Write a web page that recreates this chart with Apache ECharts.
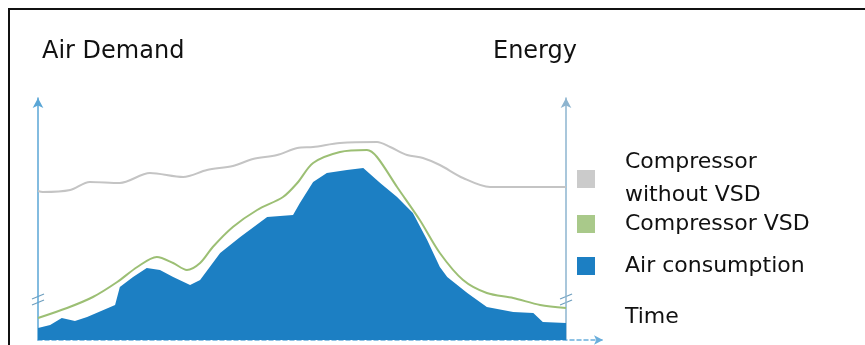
<!DOCTYPE html>
<html>
<head>
<meta charset="utf-8">
<script src="https://cdn.jsdelivr.net/npm/echarts@6/dist/echarts.min.js"></script>
<style>
  html, body { margin: 0; padding: 0; background: #fff; }
  #chart { width: 865px; height: 345px; }
</style>
</head>
<body>
<div id="chart"></div>
<script>
// Time runs 0..100 across the day; demand / energy in relative units.
const seriesNames = ['Compressor\nwithout VSD', 'Compressor VSD', 'Air consumption'];

// Fixed-speed compressor energy
const withoutVsd = [
  [0, 149], [0.9, 148], [6.1, 150], [9.8, 158], [15.5, 157], [21.2, 167],
  [27.5, 163], [32, 170], [36.9, 174], [40.7, 181], [45.3, 185], [49.1, 192],
  [52.1, 193], [57.2, 197], [64.2, 198], [66.7, 193], [69.9, 185], [72.9, 182],
  [76.1, 175], [80.5, 162], [85.6, 153], [90, 153], [95, 153], [100, 153]
];

// Variable-speed compressor energy
const withVsd = [
  [0, 22], [5.5, 32], [10.4, 43], [15, 58], [18.8, 73], [22.5, 83],
  [25.6, 77], [28.2, 70], [30.7, 77], [33.1, 93], [36.9, 113], [41.5, 130],
  [46.4, 143], [49.1, 157], [52.1, 177], [57.2, 188], [62.3, 190], [64.2, 183],
  [68, 153], [72.3, 120], [76.1, 87], [80.5, 60], [85, 47], [90, 42],
  [95.1, 35], [100, 32]
];

// Compressed air demand
const airConsumption = [
  [0, 12], [2.3, 15], [4.5, 22], [7, 19], [9.3, 23], [14.6, 35], [15.5, 53],
  [18, 63], [20.6, 72], [23.1, 70], [25.6, 63], [28.8, 55], [30.7, 60],
  [34.5, 87], [38.3, 103], [43.4, 123], [48.3, 125], [49.6, 137], [52.1, 158],
  [54.7, 167], [58.5, 170], [61.6, 172], [64.8, 157], [68, 143], [71, 127],
  [73.7, 100], [76.1, 73], [77.5, 63], [81.3, 47], [85, 33], [90, 28],
  [93.8, 27], [95.6, 18], [100, 17]
];

const axisTitles = ['Air Demand', 'Energy', 'Time'];
const breakValue = 40; // where the value axes are shown as broken

const FONT = 'DejaVu Sans';
const chart = echarts.init(document.getElementById('chart'), null, { renderer: 'canvas' });

const option = {
  animation: false,
  backgroundColor: '#ffffff',
  title: [
    { text: axisTitles[0], left: 42, top: 38, padding: 0,
      textStyle: { fontFamily: FONT, fontSize: 24, fontWeight: 'normal', color: '#111', lineHeight: 28 } },
    { text: axisTitles[1], right: 288, top: 38, padding: 0,
      textStyle: { fontFamily: FONT, fontSize: 24, fontWeight: 'normal', color: '#111', lineHeight: 28 } },
    { text: axisTitles[2], left: 625, top: 305, padding: 0,
      textStyle: { fontFamily: FONT, fontSize: 22, fontWeight: 'normal', color: '#111', lineHeight: 24 } }
  ],
  legend: [
    {
      data: [seriesNames[0]],
      orient: 'vertical', left: 577, top: 146, padding: 0,
      itemWidth: 18, itemHeight: 18, icon: 'rect',
      textStyle: { fontFamily: FONT, fontSize: 22, color: '#111', lineHeight: 33, padding: [0, 0, 0, 25] }
    },
    {
      data: [seriesNames[1], seriesNames[2]],
      orient: 'vertical', left: 577, top: 212, padding: 0, itemGap: 18,
      itemWidth: 18, itemHeight: 18, icon: 'rect',
      textStyle: { fontFamily: FONT, fontSize: 22, color: '#111', lineHeight: 24, padding: [0, 0, 0, 25] }
    }
  ],
  grid: { left: 38, right: 262, top: 98, bottom: 5, containLabel: false },
  xAxis: {
    type: 'value', min: 0, max: 107,
    axisLine: { show: true, symbol: ['none', 'arrow'], symbolSize: [7, 9],
      lineStyle: { color: '#6aaedb', width: 1.5, type: [4, 3] } },
    axisTick: { show: false }, axisLabel: { show: false }, splitLine: { show: false }
  },
  yAxis: [
    {
      type: 'value', min: 0, max: 242, position: 'left',
      axisLine: { show: true, onZero: false, symbol: ['none', 'arrow'], symbolSize: [8, 10],
        lineStyle: { color: '#5aa6d6', width: 1.5 } },
      axisTick: { show: false }, axisLabel: { show: false }, splitLine: { show: false }
    },
    {
      type: 'value', min: 0, max: 242, position: 'right', offset: -37,
      axisLine: { show: true, onZero: false, symbol: ['none', 'arrow'], symbolSize: [8, 10],
        lineStyle: { color: '#8db4cf', width: 1.5 } },
      axisTick: { show: false }, axisLabel: { show: false }, splitLine: { show: false }
    }
  ],
  series: [
    {
      name: seriesNames[2], type: 'line', data: airConsumption, z: 2,
      symbol: 'none', lineStyle: { width: 0 },
      color: '#1c7fc3', itemStyle: { color: '#1c7fc3' },
      areaStyle: { color: '#1c7fc3', opacity: 1 }
    },
    {
      name: seriesNames[1], type: 'line', data: withVsd, z: 3, smooth: 0.3,
      symbol: 'none', color: '#a9c98a', itemStyle: { color: '#a9c98a' },
      lineStyle: { color: '#9cbf74', width: 2 }
    },
    {
      name: seriesNames[0], type: 'line', data: withoutVsd, z: 3, smooth: 0.3,
      symbol: 'none', color: '#cbcbcb', itemStyle: { color: '#cbcbcb' },
      lineStyle: { color: '#c4c4c4', width: 2 }
    }
  ]
};

chart.setOption(option);

// Frame lines along top and left edge, plus break marks on both value axes
const leftBreak = chart.convertToPixel({ xAxisIndex: 0, yAxisIndex: 0 }, [0, breakValue]);
const rightBreak = chart.convertToPixel({ xAxisIndex: 0, yAxisIndex: 0 }, [100, breakValue]);

function breakMark(p) {
  return {
    type: 'group', x: p[0], y: p[1], z: 100,
    children: [
      { type: 'polygon', shape: { points: [[-6, 0], [6, -6], [6, -1], [-6, 5]] },
        style: { fill: '#ffffff' } },
      { type: 'line', shape: { x1: -6, y1: -1, x2: 6, y2: -6 },
        style: { stroke: '#6f9fbf', lineWidth: 1.3 } },
      { type: 'line', shape: { x1: -6, y1: 5, x2: 6, y2: 0 },
        style: { stroke: '#6f9fbf', lineWidth: 1.3 } }
    ]
  };
}

chart.setOption({
  graphic: [
    { type: 'polyline', z: 100,
      shape: { points: [[9, 345], [9, 9], [865, 9]] },
      style: { stroke: '#111', lineWidth: 2, fill: null } },
    breakMark(leftBreak),
    breakMark(rightBreak)
  ]
});
</script>
</body>
</html>
